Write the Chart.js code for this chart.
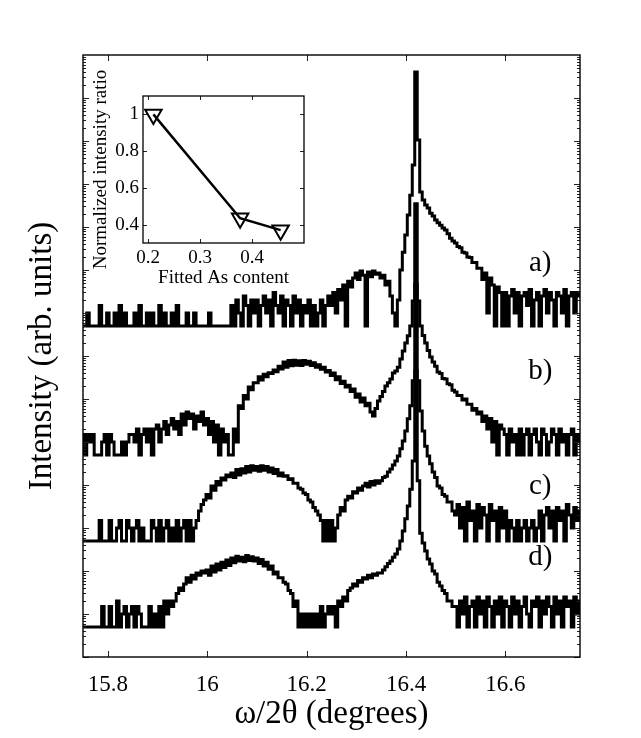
<!DOCTYPE html>
<html>
<head>
<meta charset="utf-8">
<script src="https://cdn.jsdelivr.net/npm/chart.js@4.4.1/dist/chart.umd.min.js"></script>
<style>
  body { margin: 0; background: #fff; }
  #wrap { position: relative; width: 641px; height: 738px; }
  #main { position: absolute; left: 0; top: 0; }
  #inset { position: absolute; left: 88px; top: 60px; }
</style>
</head>
<body>
<div id="wrap">
  <canvas id="main" width="641" height="738"></canvas>
  <canvas id="inset" width="230" height="236"></canvas>
</div>
<script>
// omega/2theta sampling (degrees)
const twoTheta = [
  15.75, 15.755, 15.76, 15.765, 15.77, 15.775, 15.78, 15.785, 15.79, 15.795,
  15.8, 15.805, 15.81, 15.815, 15.82, 15.825, 15.83, 15.835, 15.84, 15.845,
  15.85, 15.855, 15.86, 15.865, 15.87, 15.875, 15.88, 15.885, 15.89, 15.895,
  15.9, 15.905, 15.91, 15.915, 15.92, 15.925, 15.93, 15.935, 15.94, 15.945,
  15.95, 15.955, 15.96, 15.965, 15.97, 15.975, 15.98, 15.985, 15.99, 15.995,
  16.0, 16.005, 16.01, 16.015, 16.02, 16.025, 16.03, 16.035, 16.04, 16.045,
  16.05, 16.055, 16.06, 16.065, 16.07, 16.075, 16.08, 16.085, 16.09, 16.095,
  16.1, 16.105, 16.11, 16.115, 16.12, 16.125, 16.13, 16.135, 16.14, 16.145,
  16.15, 16.155, 16.16, 16.165, 16.17, 16.175, 16.18, 16.185, 16.19, 16.195,
  16.2, 16.205, 16.21, 16.215, 16.22, 16.225, 16.23, 16.235, 16.24, 16.245,
  16.25, 16.255, 16.26, 16.265, 16.27, 16.275, 16.28, 16.285, 16.29, 16.295,
  16.3, 16.305, 16.31, 16.315, 16.32, 16.325, 16.33, 16.335, 16.34, 16.345,
  16.35, 16.355, 16.36, 16.365, 16.37, 16.375, 16.38, 16.385, 16.39, 16.395,
  16.4, 16.405, 16.41, 16.415, 16.42, 16.425, 16.43, 16.435, 16.44, 16.445,
  16.45, 16.455, 16.46, 16.465, 16.47, 16.475, 16.48, 16.485, 16.49, 16.495,
  16.5, 16.505, 16.51, 16.515, 16.52, 16.525, 16.53, 16.535, 16.54, 16.545,
  16.55, 16.555, 16.56, 16.565, 16.57, 16.575, 16.58, 16.585, 16.59, 16.595,
  16.6, 16.605, 16.61, 16.615, 16.62, 16.625, 16.63, 16.635, 16.64, 16.645,
  16.65, 16.655, 16.66, 16.665, 16.67, 16.675, 16.68, 16.685, 16.69, 16.695,
  16.7, 16.705, 16.71, 16.715, 16.72, 16.725, 16.73, 16.735, 16.74, 16.745,
  16.75
];

// counts per sample
const countsA = [
  1, 1, 2, 1, 1, 1, 1, 3, 1, 1,
  2, 1, 1, 2, 1, 3, 1, 2, 1, 1,
  1, 2, 1, 3, 1, 1, 2, 1, 2, 1,
  1, 3, 1, 2, 1, 1, 2, 1, 3, 1,
  1, 1, 2, 1, 1, 2, 1, 1, 1, 1,
  1, 2, 1, 1, 1, 1, 1, 1, 1, 1,
  3, 1, 4, 2, 1, 5, 3, 1, 4, 2,
  4, 1, 3, 5, 2, 4, 1, 6, 3, 2,
  5, 1, 4, 3, 1, 5, 2, 4, 1, 3,
  2, 4, 1, 3, 1, 2, 4, 1, 3, 5,
  3, 6, 2, 7, 4, 9, 1, 11, 8, 13,
  17, 12, 19, 15, 1, 18, 14, 19, 16, 17,
  13, 15, 9, 11, 5, 2, 1, 4, 20, 52,
  130, 380, 1100, 5500, 800000, 21000, 1300, 850, 650, 550,
  420, 360, 290, 250, 220, 190, 170, 140, 110, 95,
  85, 70, 66, 52, 50, 40, 39, 30, 30, 22,
  22, 12, 17, 2, 13, 9, 1, 8, 6, 1,
  6, 1, 5, 7, 2, 6, 1, 5, 6, 3,
  7, 1, 4, 6, 1, 5, 7, 2, 6, 4,
  1, 6, 5, 2, 7, 1, 5, 6, 2, 6,
  5
];
const countsB = [
  3, 1, 3, 2, 3, 1, 1, 1, 2, 3,
  1, 3, 2, 1, 1, 1, 2, 1, 2, 3,
  3, 2, 4, 1, 3, 4, 2, 4, 1, 4,
  5, 2, 4, 6, 3, 5, 7, 4, 6, 3,
  9, 5, 10, 7, 9, 4, 8, 6, 10, 5,
  7, 3, 6, 2, 5, 1, 4, 2, 3, 1,
  1, 4, 2, 14, 12, 24, 20, 38, 33, 48,
  48, 66, 55, 75, 66, 82, 78, 95, 86, 115,
  100, 145, 110, 158, 118, 160, 122, 156, 120, 158,
  128, 150, 120, 140, 110, 125, 98, 110, 85, 92,
  70, 80, 56, 66, 46, 52, 38, 42, 30, 34,
  22, 26, 17, 21, 14, 16, 10, 8, 12, 18,
  23, 30, 40, 48, 58, 80, 90, 110, 170, 260,
  400, 590, 1000, 3800, 690000, 3800, 1000, 600, 400, 270,
  190, 145, 115, 85, 78, 60, 58, 45, 43, 32,
  29, 24, 24, 19, 20, 15, 15, 11, 12, 9,
  10, 6, 8, 4, 7, 2, 6, 1, 5, 4,
  3, 1, 4, 2, 3, 1, 4, 1, 3, 4,
  1, 3, 4, 2, 1, 4, 3, 1, 2, 4,
  3, 1, 4, 2, 3, 1, 3, 4, 1, 3,
  2
];
const countsC = [
  1, 1, 1, 1, 1, 1, 1, 3, 1, 1,
  1, 3, 1, 1, 2, 3, 1, 1, 3, 2,
  1, 2, 3, 1, 2, 1, 1, 1, 3, 2,
  1, 3, 1, 2, 3, 1, 2, 1, 3, 1,
  2, 3, 1, 3, 1, 2, 3, 5, 7, 9,
  12, 10, 19, 15, 24, 20, 29, 26, 34, 31,
  38, 30, 46, 34, 48, 38, 54, 40, 56, 44,
  54, 42, 56, 44, 54, 40, 50, 37, 46, 33,
  38, 32, 33, 27, 28, 22, 22, 17, 16, 13,
  12, 9, 8, 6, 5, 4, 3, 1, 3, 1,
  3, 1, 2, 4, 6, 5, 9, 11, 10, 14,
  13, 17, 15, 19, 22, 18, 24, 20, 25, 22,
  25, 30, 32, 40, 47, 58, 72, 95, 140, 210,
  360, 690, 1400, 5300, 950000, 5300, 1050, 360, 160, 95,
  62, 40, 30, 19, 17, 12, 11, 8, 8, 5,
  4, 7, 2, 6, 1, 8, 3, 5, 1, 7,
  2, 6, 4, 1, 7, 3, 5, 1, 6, 2,
  5, 1, 3, 2, 1, 3, 1, 2, 3, 1,
  2, 3, 1, 2, 5, 1, 4, 6, 2, 5,
  1, 6, 3, 5, 1, 7, 4, 2, 6, 3,
  5
];
const countsD = [
  1, 1, 1, 1, 1, 1, 1, 1, 3, 1,
  1, 3, 1, 1, 4, 1, 2, 3, 1, 2,
  3, 1, 3, 2, 1, 1, 1, 3, 1, 2,
  1, 3, 1, 4, 2, 4, 3, 4, 6, 8,
  7, 10, 14, 11, 16, 13, 18, 16, 20, 18,
  21, 16, 26, 19, 29, 21, 32, 24, 36, 27,
  40, 31, 44, 34, 42, 33, 46, 35, 43, 34,
  40, 30, 37, 26, 32, 22, 26, 17, 19, 14,
  14, 11, 10, 7, 6, 3, 4, 1, 2, 1,
  2, 1, 2, 1, 2, 1, 3, 1, 2, 3,
  2, 3, 1, 4, 3, 5, 4, 7, 8, 10,
  9, 12, 11, 14, 13, 16, 14, 17, 16, 18,
  18, 21, 25, 30, 34, 42, 50, 65, 100, 170,
  330, 650, 1600, 7200, 900000, 2500, 150, 90, 58, 38,
  29, 20, 17, 11, 9, 7, 6, 4, 4, 3,
  3, 1, 4, 2, 5, 1, 3, 4, 1, 5,
  2, 4, 1, 5, 3, 1, 4, 2, 5, 1,
  4, 3, 1, 5, 2, 4, 1, 3, 5, 2,
  1, 4, 3, 5, 1, 4, 2, 5, 3, 1,
  5, 2, 4, 1, 5, 3, 4, 1, 5, 2,
  4
];
const curveNames = ['a)', 'b)', 'c)', 'd)'];
const curveOffsets = [5e7, 5e4, 500, 5];   // vertical stacking factors
const xTicks = [15.8, 16, 16.2, 16.4, 16.6];

// inset
const asContent = [0.21, 0.377, 0.455];
const intensityRatio = [1.0, 0.435, 0.37];
const insetXTicks = [0.2, 0.3, 0.4];
const insetYTicks = [0.4, 0.6, 0.8, 1];

const SERIF = "'Liberation Serif', 'DejaVu Serif', serif";

const allCounts = [countsA, countsB, countsC, countsD];
const datasets = allCounts.map((counts, k) => ({
  label: curveNames[k],
  data: twoTheta.map((x, i) => ({ x, y: counts[i] * curveOffsets[k] })),
  borderColor: '#000',
  borderWidth: 3,
  borderJoinStyle: 'miter',
  stepped: 'middle',
  pointRadius: 0,
  tension: 0
}));

// box, inward ticks and curve labels (matlab style)
const mainFrame = {
  id: 'mainFrame',
  afterDatasetsDraw(chart) {
    const { ctx, chartArea: { left, right, top, bottom }, scales: { x, y } } = chart;
    ctx.save();
    ctx.strokeStyle = '#222';
    ctx.lineWidth = 1;
    ctx.beginPath();
    xTicks.forEach(v => {
      const px = Math.round(x.getPixelForValue(v)) + 0.5;
      ctx.moveTo(px, bottom); ctx.lineTo(px, bottom - 6);
      ctx.moveTo(px, top); ctx.lineTo(px, top + 6);
    });
    for (let e = 0; e < 14; e++) {
      for (let k = 1; k < 10; k++) {
        const py = Math.round(y.getPixelForValue(k * Math.pow(10, e))) + 0.5;
        const len = k === 1 ? 6 : 3;
        ctx.moveTo(left, py); ctx.lineTo(left + len, py);
        ctx.moveTo(right, py); ctx.lineTo(right - len, py);
      }
    }
    ctx.stroke();
    ctx.lineWidth = 1.4;
    ctx.strokeStyle = '#000';
    ctx.strokeRect(left, top, right - left, bottom - top);

    ctx.fillStyle = '#000';
    ctx.font = '29px ' + SERIF;
    ctx.textAlign = 'center';
    ctx.textBaseline = 'middle';
    const labelY = [1.4e9, 4.5e6, 9.5e3, 2.1e2];
    curveNames.forEach((t, k) => {
      ctx.fillText(t, x.getPixelForValue(16.67), y.getPixelForValue(labelY[k]));
    });
    ctx.restore();
  }
};

new Chart(document.getElementById('main'), {
  type: 'line',
  data: { datasets },
  options: {
    responsive: false,
    animation: false,
    events: [],
    layout: { padding: { top: 55, right: 61, left: 0, bottom: 0 } },
    plugins: { legend: { display: false }, tooltip: { enabled: false } },
    scales: {
      x: {
        type: 'linear',
        min: 15.75,
        max: 16.75,
        grid: { display: false, drawTicks: false },
        border: { display: false },
        afterBuildTicks: s => { s.ticks = xTicks.map(v => ({ value: v })); },
        afterFit: s => { s.height = 81; },
        ticks: {
          color: '#000',
          padding: 14,
          maxRotation: 0,
          autoSkip: false,
          font: { family: SERIF, size: 23 },
          callback: v => String(+v.toFixed(1))
        },
        title: {
          display: true,
          text: 'ω/2θ (degrees)',
          color: '#000',
          font: { family: SERIF, size: 33 },
          padding: { top: 0, bottom: 4 }
        }
      },
      y: {
        type: 'logarithmic',
        min: 1,
        max: 1e14,
        grid: { display: false, drawTicks: false },
        border: { display: false },
        ticks: { display: false },
        afterFit: s => { s.width = 83; },
        title: {
          display: true,
          text: 'Intensity (arb. units)',
          color: '#000',
          font: { family: SERIF, size: 33 },
          padding: { top: 23, bottom: 0 }
        }
      }
    }
  },
  plugins: [mainFrame]
});

const insetFrame = {
  id: 'insetFrame',
  beforeDatasetsDraw(chart) {
    const { ctx, chartArea: { left, right, top, bottom } } = chart;
    ctx.save();
    ctx.fillStyle = '#fff';
    ctx.fillRect(left, top, right - left, bottom - top);
    ctx.restore();
  },
  afterDatasetsDraw(chart) {
    const { ctx, chartArea: { left, right, top, bottom }, scales: { x, y } } = chart;
    ctx.save();
    ctx.strokeStyle = '#222';
    ctx.lineWidth = 1;
    ctx.beginPath();
    insetXTicks.forEach(v => {
      const px = Math.round(x.getPixelForValue(v)) + 0.5;
      ctx.moveTo(px, bottom); ctx.lineTo(px, bottom - 4);
      ctx.moveTo(px, top); ctx.lineTo(px, top + 4);
    });
    insetYTicks.forEach(v => {
      const py = Math.round(y.getPixelForValue(v)) + 0.5;
      ctx.moveTo(left, py); ctx.lineTo(left + 4, py);
      ctx.moveTo(right, py); ctx.lineTo(right - 4, py);
    });
    ctx.stroke();
    ctx.lineWidth = 1.3;
    ctx.strokeStyle = '#000';
    ctx.strokeRect(left, top, right - left, bottom - top);

    // y title is longer than the axis, so it is drawn here without a width limit
    ctx.fillStyle = '#000';
    ctx.font = '19px ' + SERIF;
    ctx.textAlign = 'center';
    ctx.textBaseline = 'middle';
    ctx.translate(13, (top + bottom) / 2);
    ctx.rotate(-Math.PI / 2);
    ctx.fillText('Normalized intensity ratio', 0, 0);
    ctx.restore();
  }
};

new Chart(document.getElementById('inset'), {
  type: 'line',
  data: {
    datasets: [{
      data: asContent.map((x, i) => ({ x, y: intensityRatio[i] })),
      borderColor: '#000',
      borderWidth: 2.5,
      tension: 0,
      pointStyle: 'triangle',
      pointRotation: 180,
      pointRadius: 9.5,
      pointBorderWidth: 2,
      pointBorderColor: '#000',
      pointBackgroundColor: 'rgba(0,0,0,0)'
    }]
  },
  options: {
    responsive: false,
    animation: false,
    events: [],
    layout: { padding: { top: 36, right: 14, left: 0, bottom: 0 } },
    plugins: { legend: { display: false }, tooltip: { enabled: false } },
    scales: {
      x: {
        type: 'linear',
        min: 0.19,
        max: 0.5,
        grid: { display: false, drawTicks: false },
        border: { display: false },
        afterBuildTicks: s => { s.ticks = insetXTicks.map(v => ({ value: v })); },
        afterFit: s => { s.height = 53; },
        ticks: {
          color: '#000',
          padding: 4,
          maxRotation: 0,
          autoSkip: false,
          font: { family: SERIF, size: 19 },
          callback: v => String(v)
        },
        title: {
          display: true,
          text: 'Fitted As content',
          color: '#000',
          font: { family: SERIF, size: 19 },
          padding: { top: 0, bottom: 7 }
        }
      },
      y: {
        type: 'linear',
        min: 0.3,
        max: 1.1,
        grid: { display: false, drawTicks: false },
        border: { display: false },
        afterBuildTicks: s => { s.ticks = insetYTicks.map(v => ({ value: v })); },
        afterFit: s => { s.width = 55; },
        ticks: {
          color: '#000',
          padding: 4,
          autoSkip: false,
          font: { family: SERIF, size: 19 },
          callback: v => String(v)
        },
        title: { display: false }
      }
    }
  },
  plugins: [insetFrame]
});
</script>
</body>
</html>
